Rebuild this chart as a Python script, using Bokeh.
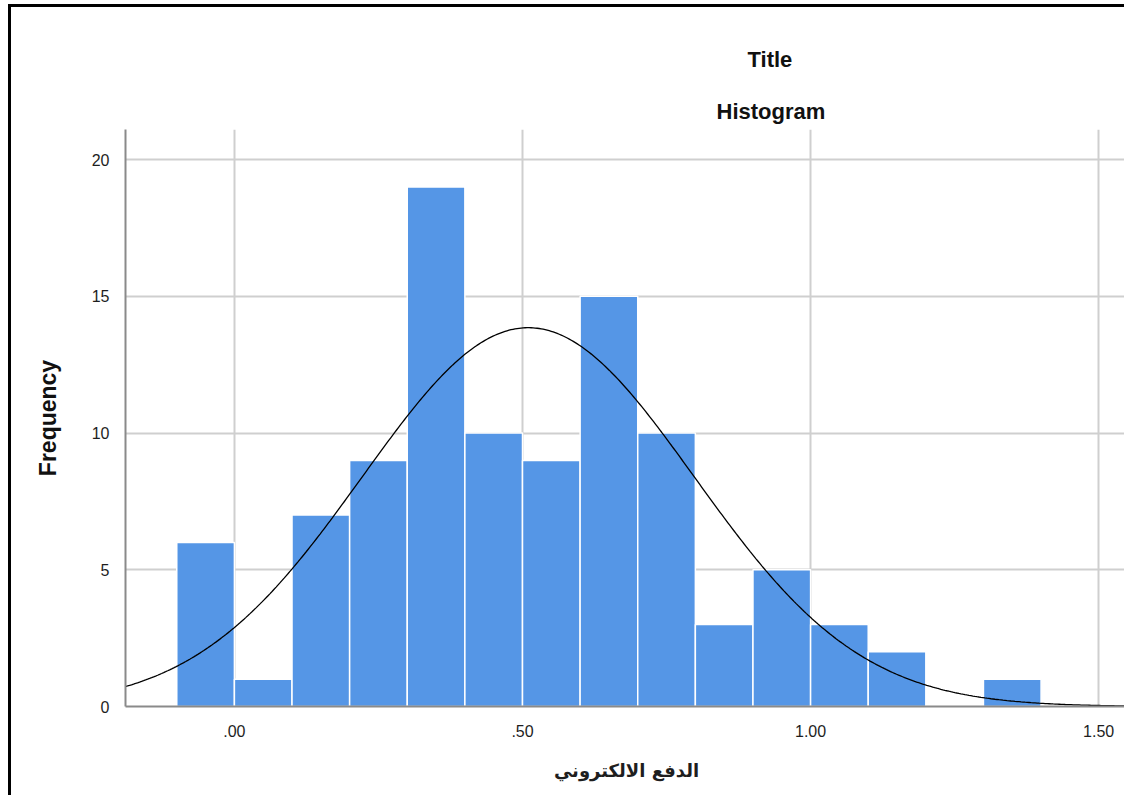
import numpy as np
from bokeh.plotting import figure
from bokeh.models import Range1d, FixedTicker, ColumnDataSource, Title
from bokeh.embed import file_html
from bokeh.resources import INLINE

# ---- data ----
bin_left = [-0.1, 0.0, 0.1, 0.2, 0.3, 0.4, 0.5, 0.6, 0.7, 0.8, 0.9, 1.0, 1.1, 1.2, 1.3]
bin_right = [0.0, 0.1, 0.2, 0.3, 0.4, 0.5, 0.6, 0.7, 0.8, 0.9, 1.0, 1.1, 1.2, 1.3, 1.4]
frequencies = [6, 1, 7, 9, 19, 10, 9, 15, 10, 3, 5, 3, 2, 0, 1]
x_ticks = [0.0, 0.5, 1.0, 1.5]
x_tick_labels = [".00", ".50", "1.00", "1.50"]
y_ticks = [0, 5, 10, 15, 20]
y_tick_labels = ["0", "5", "10", "15", "20"]
normal_mean = 0.51
normal_sd = 0.288
n_total = 100
bin_width = 0.1
title_lines = ["Title", "Histogram"]
x_label = "الدفع الالكتروني"
y_label = "Frequency"

X0, X1 = -0.189, 1.55
Y0, Y1 = 0.0, 21.1

p = figure(width=1116, height=791, output_backend="svg", toolbar_location=None,
           x_range=Range1d(X0, X1), y_range=Range1d(Y0, Y1),
           min_border_left=114, min_border_right=0, min_border_top=122,
           min_border_bottom=92)
p.styles = {"margin-left": "8px", "margin-top": "4px",
            "border-left": "3px solid black", "border-top": "3px solid black"}
p.outline_line_color = None
p.background_fill_color = "white"
p.border_fill_color = "white"

# grid
p.xgrid.ticker = FixedTicker(ticks=x_ticks)
p.ygrid.ticker = FixedTicker(ticks=y_ticks)
for g in (p.xgrid, p.ygrid):
    g.grid_line_color = "#cfcfcf"
    g.grid_line_width = 2

# bars
src = ColumnDataSource(dict(
    left=[l for l, f in zip(bin_left, frequencies) if f > 0],
    right=[r for r, f in zip(bin_right, frequencies) if f > 0],
    top=[f for f in frequencies if f > 0],
))
p.quad(left="left", right="right", bottom=0, top="top", source=src,
       fill_color="#5596e6", line_color="white", line_width=1.5)

# normal curve
xs = np.linspace(X0, X1, 500)
peak = n_total * bin_width / (normal_sd * np.sqrt(2 * np.pi))
ys = peak * np.exp(-0.5 * ((xs - normal_mean) / normal_sd) ** 2)
p.line(xs, ys, line_color="black", line_width=1.3)

# axes
p.xaxis.ticker = FixedTicker(ticks=x_ticks)
p.xaxis.major_label_overrides = {t: s for t, s in zip(x_ticks, x_tick_labels)}
p.yaxis.ticker = FixedTicker(ticks=y_ticks)
p.yaxis.major_label_overrides = {t: s for t, s in zip(y_ticks, y_tick_labels)}
for ax in (p.xaxis[0], p.yaxis[0]):
    ax.axis_line_color = "#8a8a8a"
    ax.axis_line_width = 2
    ax.major_tick_line_color = None
    ax.minor_tick_line_color = None
    ax.major_label_text_font = "Liberation Sans"
    ax.major_label_text_font_size = "16px"
    ax.major_label_text_color = "#1e1e1e"
p.xaxis.major_label_standoff = 12
p.yaxis.major_label_standoff = 10

p.xaxis.axis_label = x_label
p.xaxis.axis_label_text_font = "DejaVu Sans"
p.xaxis.axis_label_text_font_style = "bold"
p.xaxis.axis_label_text_font_size = "18px"
p.xaxis.axis_label_text_color = "#1e1e1e"
p.xaxis.axis_label_standoff = 20

p.yaxis.axis_label = y_label
p.yaxis.axis_label_text_font = "Liberation Sans"
p.yaxis.axis_label_text_font_style = "bold"
p.yaxis.axis_label_text_font_size = "23px"
p.yaxis.axis_label_text_color = "#111111"
p.yaxis.axis_label_standoff = 28

# titles: two stacked title panels, left-aligned with offsets that centre them near x=770px
p.title.text = title_lines[0]
p.title.align = "left"
p.title.offset = 622
p.title.text_font = "Liberation Sans"
p.title.text_font_style = "bold"
p.title.text_font_size = "22px"
p.title.text_color = "#111111"
p.title.standoff = 38

near_title = Title(text=title_lines[1], align="left", offset=591,
                   text_font="Liberation Sans", text_font_style="bold",
                   text_font_size="22px", text_color="#111111", standoff=12)
p.add_layout(near_title, "above")

open("out.html", "w").write(file_html(p, INLINE))
